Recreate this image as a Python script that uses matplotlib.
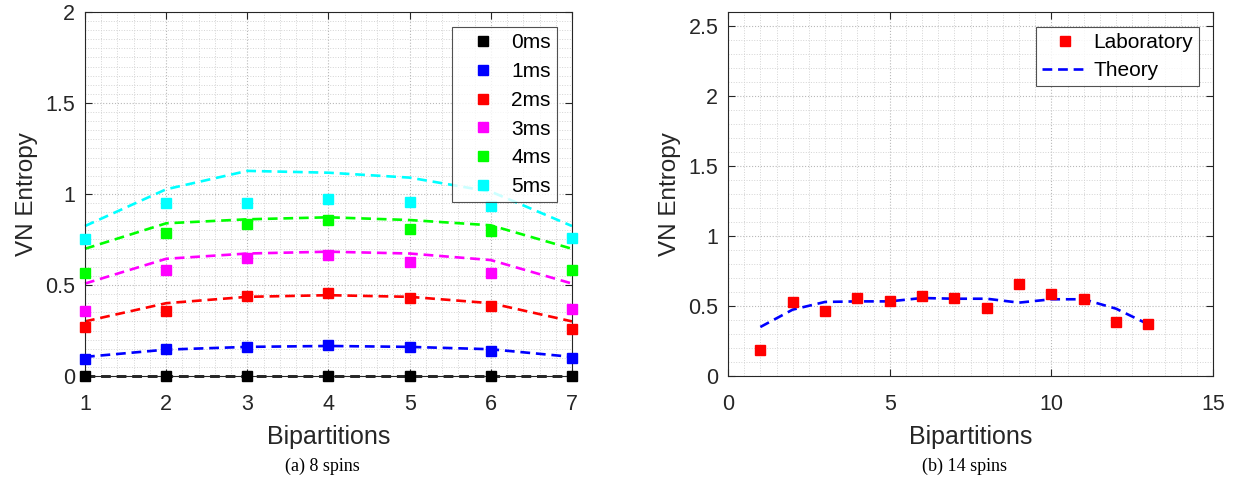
import matplotlib
matplotlib.use("Agg")
import matplotlib.pyplot as plt
from matplotlib.ticker import MultipleLocator

plt.rcParams['font.family'] = ['Liberation Sans', 'DejaVu Sans']

# ---- Panel (a): 8 spins ----
bip_a = [1, 2, 3, 4, 5, 6, 7]
labels_a = ['0ms', '1ms', '2ms', '3ms', '4ms', '5ms']
colors_a = ['#000000', '#0000ff', '#ff0000', '#ff00ff', '#00ff00', '#00ffff']
lab_0ms = [0.0, 0.0, 0.0, 0.0, 0.0, 0.0, 0.0]
lab_1ms = [0.095, 0.149, 0.160, 0.169, 0.160, 0.136, 0.100]
lab_2ms = [0.270, 0.358, 0.438, 0.457, 0.429, 0.385, 0.260]
lab_3ms = [0.358, 0.585, 0.651, 0.664, 0.624, 0.567, 0.367]
lab_4ms = [0.567, 0.783, 0.833, 0.857, 0.807, 0.798, 0.582]
lab_5ms = [0.754, 0.949, 0.949, 0.972, 0.958, 0.934, 0.760]
th_0ms = [0.0, 0.0, 0.0, 0.0, 0.0, 0.0, 0.0]
th_1ms = [0.105, 0.145, 0.160, 0.165, 0.160, 0.147, 0.105]
th_2ms = [0.300, 0.400, 0.435, 0.444, 0.435, 0.400, 0.300]
th_3ms = [0.508, 0.644, 0.673, 0.683, 0.673, 0.637, 0.508]
th_4ms = [0.699, 0.839, 0.861, 0.872, 0.857, 0.828, 0.699]
th_5ms = [0.824, 1.026, 1.127, 1.117, 1.090, 1.013, 0.824]
lab_a = [lab_0ms, lab_1ms, lab_2ms, lab_3ms, lab_4ms, lab_5ms]
th_a = [th_0ms, th_1ms, th_2ms, th_3ms, th_4ms, th_5ms]

# ---- Panel (b): 14 spins ----
bip_b = [1, 2, 3, 4, 5, 6, 7, 8, 9, 10, 11, 12, 13]
lab_b = [0.183, 0.529, 0.464, 0.557, 0.533, 0.574, 0.560, 0.483, 0.657,
         0.588, 0.548, 0.388, 0.369]
th_b = [0.350, 0.474, 0.529, 0.533, 0.533, 0.557, 0.552, 0.552, 0.524,
        0.548, 0.548, 0.481, 0.369]

W, H = 1238, 486
fig = plt.figure(figsize=(W / 100, H / 100), dpi=100)
L1, R1, L2, R2, T, B = 85, 572, 728, 1213, 12, 376
ax1 = fig.add_axes([L1 / W, 1 - B / H, (R1 - L1) / W, (B - T) / H])
ax2 = fig.add_axes([L2 / W, 1 - B / H, (R2 - L2) / W, (B - T) / H])

dash = (0, (3.7, 2.2))
ms = 7.6
lw = 1.9

for ys, yt, c, lbl in zip(lab_a, th_a, colors_a, labels_a):
    ax1.plot(bip_a, yt, linestyle=dash, color=c, lw=lw, zorder=2,
             clip_on=False)
    ax1.plot(bip_a, ys, linestyle='none', marker='s', ms=ms, color=c,
             label=lbl, zorder=3, clip_on=False)

ax2.plot(bip_b, lab_b, linestyle='none', marker='s', ms=ms, color='#ff0000',
         label='Laboratory', zorder=3)
ax2.plot(bip_b, th_b, linestyle=dash, color='#0000ff', lw=lw,
         label='Theory', zorder=2)

ax1.set_xlim(1, 7)
ax1.set_ylim(0, 2)
ax1.xaxis.set_major_locator(MultipleLocator(1))
ax1.xaxis.set_minor_locator(MultipleLocator(0.2))
ax1.yaxis.set_minor_locator(MultipleLocator(0.05))
ax1.set_yticks([0, 0.5, 1, 1.5, 2])
ax1.set_yticklabels(['0', '0.5', '1', '1.5', '2'])

ax2.set_xlim(0, 15)
ax2.set_ylim(0, 2.6)
ax2.xaxis.set_major_locator(MultipleLocator(5))
ax2.xaxis.set_minor_locator(MultipleLocator(0.5))
ax2.yaxis.set_minor_locator(MultipleLocator(0.1))
ax2.set_yticks([0, 0.5, 1, 1.5, 2, 2.5])
ax2.set_yticklabels(['0', '0.5', '1', '1.5', '2', '2.5'])

for ax in (ax1, ax2):
    ax.grid(True, which='major', linestyle=':', color='#b8b8b8', lw=0.8)
    ax.grid(True, which='minor', linestyle=':', color='#d4d4d4', lw=0.7)
    ax.set_axisbelow(True)
    ax.tick_params(which='major', direction='in', length=5, width=0.8,
                   top=True, right=True, labelsize=15.5, colors='#262626')
    ax.tick_params(axis='x', which='major', pad=13)
    ax.tick_params(axis='y', which='major', pad=7)
    ax.tick_params(which='minor', length=0)
    for s in ax.spines.values():
        s.set_color('#262626')
        s.set_linewidth(0.8)
    ax.set_xlabel('Bipartitions', fontsize=18, color='#262626', labelpad=7)
    ax.set_ylabel('VN Entropy', fontsize=17.5, color='#262626', labelpad=5)

leg1 = ax1.legend(loc='upper right', fontsize=15, frameon=True, fancybox=False,
                  edgecolor='#262626', handlelength=2.4, handletextpad=0.15,
                  borderpad=0.3, labelspacing=0.47, borderaxespad=0,
                  bbox_to_anchor=((557 - L1) / (R1 - L1), (B - 27) / (B - T)))
leg1.get_frame().set_linewidth(0.8)
leg2 = ax2.legend(loc='upper right', fontsize=15, frameon=True, fancybox=False,
                  edgecolor='#262626', handlelength=2.2, handletextpad=0.25,
                  borderpad=0.3, labelspacing=0.42, borderaxespad=0,
                  bbox_to_anchor=((1199 - L2) / (R2 - L2), (B - 27) / (B - T)))
leg2.get_frame().set_linewidth(0.8)

fig.text(322 / W, 1 - 466 / H, '(a) 8 spins', ha='center',
         va='center', fontsize=13, family=['Liberation Serif'])
fig.text(964 / W, 1 - 466 / H, '(b) 14 spins', ha='center',
         va='center', fontsize=13, family=['Liberation Serif'])

fig.savefig('out.png', dpi=100)
